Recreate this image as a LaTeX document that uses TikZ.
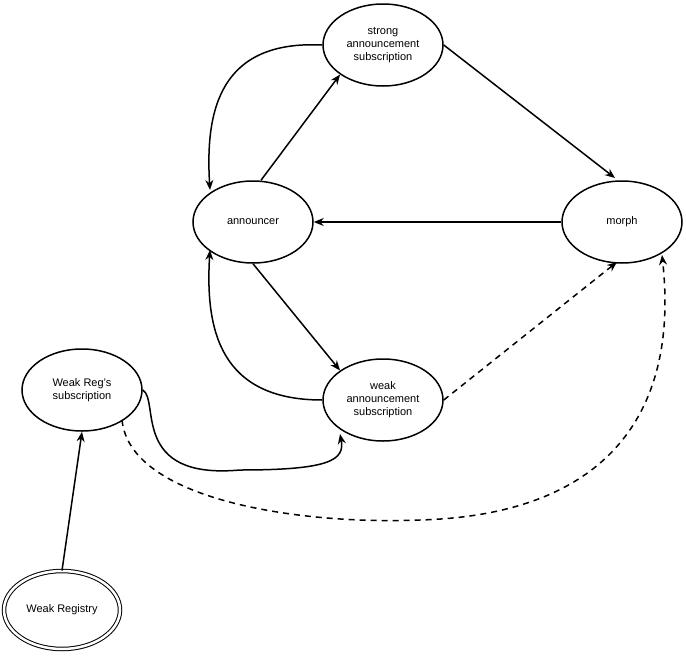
\documentclass[tikz,border=0pt]{standalone}
\usepackage{fontspec}
\setmainfont{Liberation Sans}
\usetikzlibrary{shapes.geometric,arrows.meta}
\begin{document}
\begin{tikzpicture}[x=1pt,y=-1pt,
  st/.style={ellipse,draw,line width=1.5pt,minimum width=120pt,minimum height=82pt,inner sep=0pt,align=center,font=\fontsize{11}{13}\selectfont},
  ar/.style={line width=1.5pt,-{Stealth[length=10pt,width=8pt]}},
  da/.style={ar,dash pattern=on 6pt off 5pt}]
\useasboundingbox (0,0) rectangle (686,656);
\node[st] (s) at (383,45) {strong\\announcement\\subscription};
\node[st] (a) at (253,222) {announcer};
\node[st] (m) at (622,222) {morph};
\node[st] (w) at (383,400) {weak\\announcement\\subscription};
\node[st] (r) at (82,390) {Weak Reg's\\subscription};
\node[st,double,double distance=2.5pt,line width=1pt,minimum width=116pt,minimum height=78pt] (g) at (62,610) {Weak Registry};
\coordinate (aT) at (210,190);
\coordinate (aB) at (210,250);
\coordinate (mL) at (617,262);
\coordinate (mR) at (662,255);
\coordinate (mT) at (615,178);
\coordinate (wB) at (340,434);
\draw[ar] (s.west) .. controls (220,40) and (205,110) .. (aT);
\draw[ar] (a.north) ++(8,0) -- (s.south west);
\draw[ar] (s.east) -- (mT);
\draw[ar] (m.west) -- (a.east);
\draw[ar] (a.south) -- (w.north west);
\draw[ar] (w.west) .. controls (220,400) and (205,330) .. (aB);
\draw[da] (w.east) -- (mL);
\draw[ar] (r.east) .. controls (160,400) and (130,480) .. (240,470) .. controls (330,470) and (345,460) .. (wB);
\draw[da] (122,420) .. controls (130,500) and (300,525) .. (420,520) .. controls (600,515) and (680,420) .. (mR);
\draw[ar] (g.north) -- (r.south);
\end{tikzpicture}
\end{document}
